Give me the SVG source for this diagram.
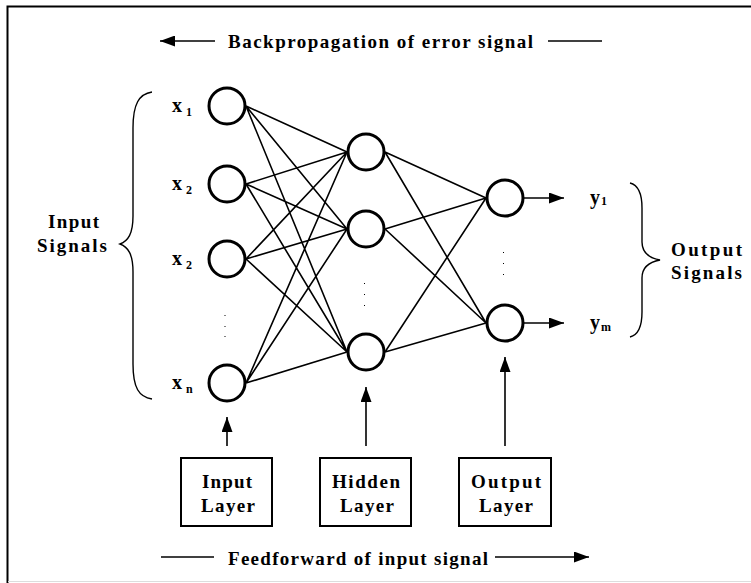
<svg xmlns="http://www.w3.org/2000/svg" width="751" height="583" viewBox="0 0 751 583">
  <defs>
    <style>
      .node { fill: #fff; stroke: #000; stroke-width: 3; }
      .edge { stroke: #000; stroke-width: 1.6; fill: none; }
      .arrow { stroke: #000; stroke-width: 1.6; fill: none; }
      .brace { stroke: #000; stroke-width: 1.4; fill: none; }
      .box { fill: #fff; stroke: #000; stroke-width: 2; }
      .lbl { font-family: "Liberation Serif", "Times New Roman", serif; font-weight: bold; fill: #000; }
      .big { font-size: 19px; }
      .var { font-size: 20px; }
      .sub { font-size: 12px; }
      .dot { fill: #000; }
    </style>
    <marker id="head" viewBox="0 0 15 11" refX="15" refY="5.5" markerWidth="15" markerHeight="11" markerUnits="userSpaceOnUse" orient="auto">
      <path d="M0,0 L15,5.5 L0,11 Z" fill="#000"/>
    </marker>
  </defs>

  <rect width="751" height="583" fill="#fff"/>
  <!-- frame -->
  <path d="M7.5,583 V6.5 H751" fill="none" stroke="#000" stroke-width="2"/>
  <line x1="8" y1="581.5" x2="751" y2="581.5" stroke="#ddd" stroke-width="1"/>

  <!-- connectors -->
  <g id="connectors">
    <!-- input to hidden -->
    <path class="edge" d="M246,106 L347,152 M246,106 L347,229 M246,106 L347,352
                          M246,184 L347,152 M246,184 L347,229 M246,184 L347,352
                          M246,259 L347,152 M246,259 L347,229 M246,259 L347,352
                          M246,383 L347,152 M246,383 L347,229 M246,383 L347,352"/>
    <!-- hidden to output -->
    <path class="edge" d="M385,152 L486,198 M385,152 L486,323
                          M385,229 L486,198 M385,229 L486,323
                          M385,352 L486,198 M385,352 L486,323"/>
    <!-- outputs -->
    <line class="arrow" x1="523" y1="198" x2="564" y2="198" marker-end="url(#head)"/>
    <line class="arrow" x1="523" y1="323" x2="564" y2="323" marker-end="url(#head)"/>
    <!-- layer pointers -->
    <line class="arrow" x1="227" y1="446" x2="227" y2="417" marker-end="url(#head)"/>
    <line class="arrow" x1="366" y1="446" x2="366" y2="387" marker-end="url(#head)"/>
    <line class="arrow" x1="505" y1="446" x2="505" y2="357" marker-end="url(#head)"/>
    <!-- direction arrows -->
    <line class="arrow" x1="215" y1="41" x2="160" y2="41" marker-end="url(#head)"/>
    <line class="arrow" x1="548" y1="41" x2="602" y2="41"/>
    <line class="arrow" x1="161" y1="557" x2="214" y2="557"/>
    <line class="arrow" x1="495" y1="557" x2="589" y2="557" marker-end="url(#head)"/>
  </g>

  <!-- input layer -->
  <g id="in1"><circle class="node" cx="227" cy="106" r="18"/></g>
  <g id="in2"><circle class="node" cx="227" cy="184" r="18"/></g>
  <g id="in3"><circle class="node" cx="227" cy="259" r="18"/></g>
  <g id="inN"><circle class="node" cx="227" cy="383" r="18"/></g>
  <!-- hidden layer -->
  <g id="h1"><circle class="node" cx="366" cy="152" r="18"/></g>
  <g id="h2"><circle class="node" cx="366" cy="229" r="18"/></g>
  <g id="hK"><circle class="node" cx="366" cy="352" r="18"/></g>
  <!-- output layer -->
  <g id="o1"><circle class="node" cx="505" cy="198" r="18"/></g>
  <g id="oM"><circle class="node" cx="505" cy="323" r="18"/></g>

  <!-- ellipsis dots -->
  <g id="ellipses">
    <rect class="dot" x="224.5" y="315" width="1" height="1"/>
    <rect class="dot" x="224.5" y="326" width="1" height="1"/>
    <rect class="dot" x="224.5" y="336" width="1" height="1"/>
    <rect class="dot" x="364" y="283" width="1" height="1"/>
    <rect class="dot" x="364" y="294" width="1" height="1"/>
    <rect class="dot" x="364" y="305" width="1" height="1"/>
    <rect class="dot" x="503" y="252" width="1" height="1"/>
    <rect class="dot" x="503" y="263" width="1" height="1"/>
    <rect class="dot" x="503" y="274" width="1" height="1"/>
  </g>

  <!-- input labels -->
  <g id="x-labels">
    <text class="lbl var" x="172" y="112">x<tspan class="sub" dx="4" dy="4">1</tspan></text>
    <text class="lbl var" x="172" y="190">x<tspan class="sub" dx="4" dy="4">2</tspan></text>
    <text class="lbl var" x="172" y="265">x<tspan class="sub" dx="4" dy="4">2</tspan></text>
    <text class="lbl var" x="172" y="389">x<tspan class="sub" dx="4" dy="4">n</tspan></text>
  </g>
  <!-- output labels -->
  <g id="y-labels">
    <text class="lbl var" x="590" y="204">y<tspan class="sub" dx="1" dy="1">1</tspan></text>
    <text class="lbl var" x="590" y="329">y<tspan class="sub" dx="1" dy="2">m</tspan></text>
  </g>

  <!-- braces -->
  <g id="input-signals">
    <path class="brace" d="M152,92 C139,94 133,104 133,128 L133,216 C133,234 128,241 120,244 C128,247 133,254 133,272 L133,364 C133,388 139,397 152,399"/>
    <text class="lbl big" x="48" y="228" textLength="51" lengthAdjust="spacing">Input</text>
    <text class="lbl big" x="37" y="252" textLength="70" lengthAdjust="spacing">Signals</text>
  </g>
  <g id="output-signals">
    <path class="brace" d="M630,183 C638,185 642,193 642,208 L642,242 C642,252 649,258 660,260 C649,262 642,268 642,278 L642,312 C642,327 638,335 630,337"/>
    <text class="lbl big" x="671" y="256" textLength="71" lengthAdjust="spacing">Output</text>
    <text class="lbl big" x="671" y="279" textLength="71" lengthAdjust="spacing">Signals</text>
  </g>

  <!-- layer boxes -->
  <g id="input-layer">
    <rect class="box" x="181" y="458" width="91" height="68"/>
    <text class="lbl big" x="202" y="488" textLength="50" lengthAdjust="spacing">Input</text>
    <text class="lbl big" x="201" y="512" textLength="54" lengthAdjust="spacing">Layer</text>
  </g>
  <g id="hidden-layer">
    <rect class="box" x="320" y="458" width="91" height="68"/>
    <text class="lbl big" x="332" y="488" textLength="68" lengthAdjust="spacing">Hidden</text>
    <text class="lbl big" x="340" y="512" textLength="54" lengthAdjust="spacing">Layer</text>
  </g>
  <g id="output-layer">
    <rect class="box" x="459" y="458" width="92" height="68"/>
    <text class="lbl big" x="471" y="488" textLength="70" lengthAdjust="spacing">Output</text>
    <text class="lbl big" x="479" y="512" textLength="54" lengthAdjust="spacing">Layer</text>
  </g>

  <!-- direction captions -->
  <text class="lbl big" x="228" y="48" textLength="305" lengthAdjust="spacing">Backpropagation of error signal</text>
  <text class="lbl big" x="228" y="565" textLength="260" lengthAdjust="spacing">Feedforward of input signal</text>
</svg>
